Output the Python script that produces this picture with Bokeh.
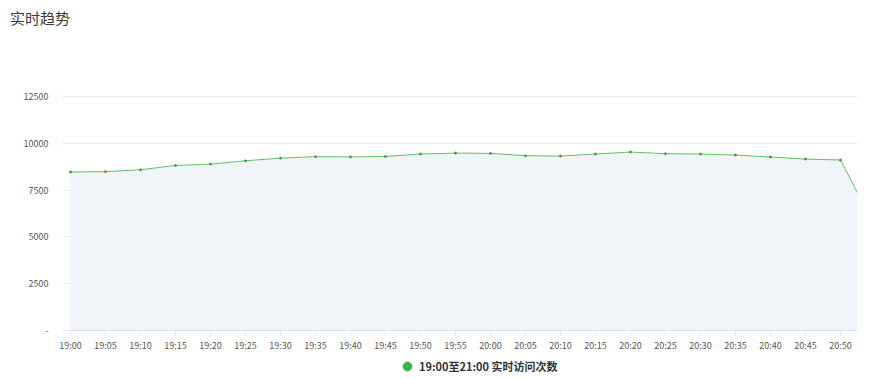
from bokeh.plotting import figure
from bokeh.layouts import column
from bokeh.models import FixedTicker, Range1d, Legend, LegendItem, Div
from bokeh.embed import file_html
from bokeh.resources import INLINE

title_text = "实时趋势"
series_name = "19:00至21:00 实时访问次数"
times = ["19:00", "19:05", "19:10", "19:15", "19:20", "19:25", "19:30", "19:35",
         "19:40", "19:45", "19:50", "19:55", "20:00", "20:05", "20:10", "20:15",
         "20:20", "20:25", "20:30", "20:35", "20:40", "20:45", "20:50", "20:52:26"]
visits = [8460, 8480, 8580, 8810, 8880, 9060, 9200, 9280,
          9265, 9290, 9420, 9470, 9455, 9330, 9310, 9420,
          9525, 9440, 9420, 9365, 9260, 9150, 9100, 7355]
tick_labels = times[:-1]
y_ticks = [0, 2500, 5000, 7500, 10000, 12500]


def to_min(t):
    parts = [int(v) for v in t.split(":")]
    while len(parts) < 3:
        parts.append(0)
    return (parts[0] - 19) * 60 + parts[1] + parts[2] / 60.0


xs = [to_min(t) for t in times]
tick_pos = [to_min(t) for t in tick_labels]

FONT = "Noto Sans CJK SC"

# title
tp = Div(text=title_text, width=873, height=49, margin=0,
         styles={"font-family": FONT, "font-size": "15px", "color": "#3a3a3a",
                 "line-height": "20px", "padding-left": "10px", "padding-top": "8px",
                 "box-sizing": "border-box"})

p = figure(width=873, height=305, output_backend="svg", toolbar_location=None,
           x_range=Range1d(-8 / 7.0, xs[-1]), y_range=Range1d(0, 15000),
           min_border_left=62, min_border_right=16, min_border_top=0, min_border_bottom=24)
p.outline_line_color = None
p.background_fill_color = "white"
p.border_fill_color = "white"

p.varea(x=xs, y1=[0] * len(xs), y2=visits, fill_color="#f1f4f9")
p.line(xs, visits, line_color="#62c062", line_width=1)
p.scatter(xs[:-1], visits[:-1], size=2, color="#3f9f3f")

xa = p.xaxis[0]
xa.ticker = FixedTicker(ticks=tick_pos)
xa.major_label_overrides = {pos: lab for pos, lab in zip(tick_pos, tick_labels)}
xa.axis_line_color = "#dde3f0"
xa.major_tick_line_color = "#dde3f0"
xa.major_tick_out = 5
xa.major_tick_in = 0
xa.minor_tick_line_color = None
xa.major_label_text_font = FONT
xa.major_label_text_font_size = "9px"
xa.major_label_text_color = "#555555"
xa.major_label_standoff = 3

ya = p.yaxis[0]
ya.ticker = FixedTicker(ticks=y_ticks)
ya.major_label_overrides = {0: "-"}
ya.axis_line_color = None
ya.major_tick_line_color = None
ya.minor_tick_line_color = None
ya.major_tick_out = 0
ya.major_tick_in = 0
ya.major_label_standoff = 14
ya.major_label_text_font = FONT
ya.major_label_text_font_size = "9px"
ya.major_label_text_color = "#555555"

p.xgrid.grid_line_color = None
p.ygrid.grid_line_color = "#ebebeb"
p.ygrid.ticker = FixedTicker(ticks=y_ticks)

# legend strip
lg = figure(width=873, height=25, output_backend="svg", toolbar_location=None,
            x_range=Range1d(0, 1), y_range=Range1d(0, 1),
            min_border_left=0, min_border_right=0, min_border_top=0, min_border_bottom=0)
lg.axis.visible = False
lg.grid.visible = False
lg.outline_line_color = None
lg.border_fill_color = "white"
dummy = lg.scatter(x=[-10], y=[-10], size=9, fill_color="#3db34a", line_color="#3db34a")
legend = Legend(items=[LegendItem(label=series_name, renderers=[dummy])],
                location=(334, 2), orientation="horizontal",
                glyph_width=22, glyph_height=22, label_standoff=1,
                padding=0, margin=0, spacing=0,
                border_line_color=None, background_fill_alpha=0,
                label_text_font=FONT, label_text_font_size="11px",
                label_text_font_style="bold", label_text_color="#333333")
lg.add_layout(legend)

layout = column(tp, p, lg, spacing=0)
open("out.html", "w").write(file_html(layout, INLINE))
